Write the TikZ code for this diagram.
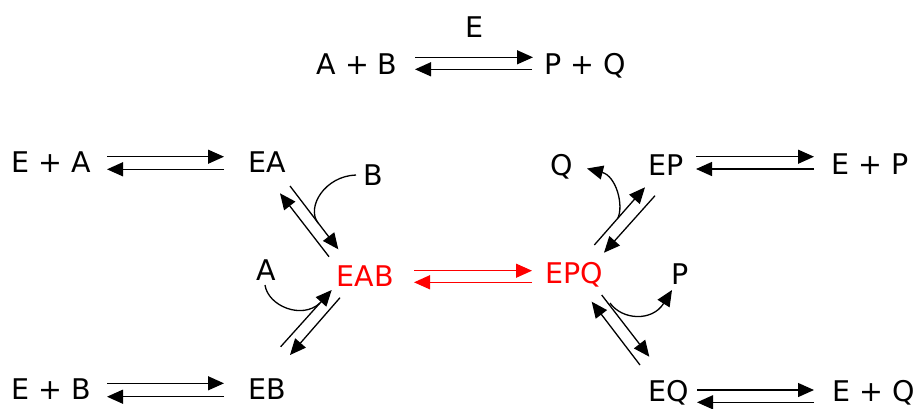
\documentclass[tikz,border=0pt]{standalone}
\usepackage{fontspec}
\setmainfont{DejaVu Sans}
\usetikzlibrary{arrows.meta}
\begin{document}
\begin{tikzpicture}[x=1pt,y=-1pt,
  lbl/.style={anchor=base,inner sep=0pt,font=\fontsize{28.5pt}{34pt}\selectfont},
  rx/.style={line width=1.3pt,-{Triangle[length=16pt,width=14pt]}},
  plain/.style={line width=1.3pt}]
\useasboundingbox (0,0) rectangle (918,408);
% labels
\node[lbl] (E)    at (474,37.3) {E};
\node[lbl] (AB)   at (357,74.5) {A + B};
\node[lbl] (PQ)   at (585,74.5) {P + Q};
\node[lbl] (EpA)  at (51.7,172) {E + A};
\node[lbl] (EA)   at (267.5,172) {EA};
\node[lbl] (Bl)   at (373,185) {B};
\node[lbl] (Al)   at (266,280) {A};
\node[lbl,text=red] (EAB) at (365.5,286) {EAB};
\node[lbl,text=red] (EPQ) at (574.5,283.5) {EPQ};
\node[lbl] (Ql)   at (562,175) {Q};
\node[lbl] (EP)   at (666,175) {EP};
\node[lbl] (EpP)  at (870,174.3) {E + P};
\node[lbl] (Pl)   at (680,284) {P};
\node[lbl] (EpB)  at (51.7,399) {E + B};
\node[lbl] (EB)   at (267.5,399) {EB};
\node[lbl] (EQ)   at (669,401.7) {EQ};
\node[lbl] (EpQ)  at (873.3,401.7) {E + Q};
% horizontal arrow ends
\coordinate (t1) at (415,57.3);   \coordinate (t2) at (533,57.3);
\coordinate (t3) at (532,69.3);   \coordinate (t4) at (415,69.3);
\coordinate (a1) at (107,156.7);  \coordinate (a2) at (224,156.7);
\coordinate (a3) at (224,169.3);  \coordinate (a4) at (107,169.3);
\coordinate (b1) at (107,383.3);  \coordinate (b2) at (224,383.3);
\coordinate (b3) at (224,396.7);  \coordinate (b4) at (107,396.7);
\coordinate (p1) at (696,156.7);  \coordinate (p2) at (814,156.7);
\coordinate (p3) at (814,169);    \coordinate (p4) at (696,169);
\coordinate (q1) at (697,390);    \coordinate (q2) at (814,390);
\coordinate (q3) at (814,402.3);  \coordinate (q4) at (697,402.3);
\coordinate (r1) at (414,270.7);  \coordinate (r2) at (532,270.7);
\coordinate (r3) at (532,282.3);  \coordinate (r4) at (414,282.3);
\draw[rx] (t1) -- (t2); \draw[rx] (t3) -- (t4);
\draw[rx] (a1) -- (a2); \draw[rx] (a3) -- (a4);
\draw[rx] (b1) -- (b2); \draw[rx] (b3) -- (b4);
\draw[rx] (p1) -- (p2); \draw[rx] (p3) -- (p4);
\draw[rx] (q1) -- (q2); \draw[rx] (q3) -- (q4);
\draw[rx,red] (r1) -- (r2); \draw[rx,red] (r3) -- (r4);
% diagonal arrow ends
\coordinate (d1) at (290,186);     \coordinate (d2) at (338.3,249.3);
\coordinate (d3) at (329,256.7);   \coordinate (d4) at (280,193.3);
\coordinate (e1) at (280.7,346.7); \coordinate (e2) at (331.7,290);
\coordinate (e3) at (340,297.7);   \coordinate (e4) at (290,355);
\coordinate (f1) at (594.3,245);   \coordinate (f2) at (645,187.3);
\coordinate (f3) at (655,195.7);   \coordinate (f4) at (604,252.7);
\coordinate (g1) at (601.7,295);   \coordinate (g2) at (649.3,356.7);
\coordinate (g3) at (640,365);     \coordinate (g4) at (591.7,301.7);
\draw[rx] (d1) -- (d2); \draw[rx] (d3) -- (d4);
\draw[rx] (e1) -- (e2); \draw[rx] (e3) -- (e4);
\draw[rx] (f1) -- (f2); \draw[rx] (f3) -- (f4);
\draw[rx] (g1) -- (g2); \draw[rx] (g3) -- (g4);
% curved arrows
\coordinate (cb1) at (356,175);  \coordinate (cb2) at (318,223);
\coordinate (ca1) at (265,285);  \coordinate (ca2) at (320,303);
\coordinate (cq1) at (617.8,218.3); \coordinate (cq2) at (587,168.5);
\coordinate (cp1) at (610,303);  \coordinate (cp2) at (672,290);
\draw[plain] (cb1) .. controls (325,176) and (306,207) .. (cb2);
\draw[plain] (ca1) .. controls (268,306) and (302,320) .. (ca2);
\draw[rx] (cq1) .. controls (624,205) and (616,176) .. (cq2);
\draw[rx] (cp1) .. controls (622,320) and (652,322) .. (cp2);
\end{tikzpicture}
\end{document}
